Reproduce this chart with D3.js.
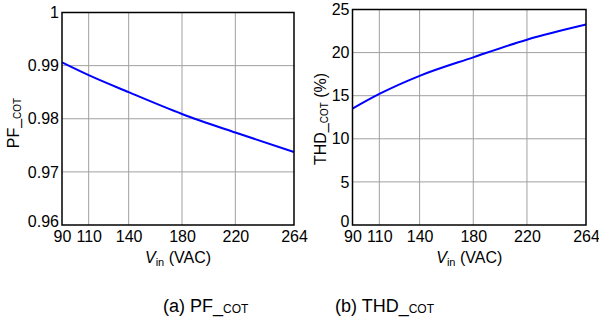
<!DOCTYPE html>
<html>
<head>
<meta charset="utf-8">
<script src="https://cdn.jsdelivr.net/npm/d3@7"></script>
<style>
  body { margin: 0; background: #fff; }
  svg { display: block; font-family: "Liberation Sans", Arial, sans-serif; }
  .grid line { stroke: #a0a0a0; stroke-width: 1; }
  .tick text { fill: #000; font-size: 16px; }
</style>
</head>
<body>
<svg id="chart" width="599" height="322"></svg>
<script>
// input voltage samples (VAC)
const vin = [90, 110, 140, 180, 220, 264];
const xTicks = [90, 110, 140, 180, 220, 264];

// power factor, COT control
const pfCot = [0.9906, 0.9882, 0.9850, 0.9809, 0.9774, 0.97375];
const pfTicks = [0.96, 0.97, 0.98, 0.99, 1];

// THD (%), COT control
const thdCot = [13.5, 15.2, 17.3, 19.45, 21.5, 23.25];
const thdTicks = [0, 5, 10, 15, 20, 25];

const svg = d3.select('#chart');

/**
 * Draw one panel.
 */
function drawPanel(opts) {

  const x = d3.scaleLinear().domain([90, 264]).range([opts.left, opts.right]);
  const y = d3.scaleLinear().domain(opts.yDomain).range([opts.bottom, opts.top]);
  const g = svg.append('g');

  // grid
  const grid = g.append('g').attr('class', 'grid');
  grid.selectAll('.vx')
    .data(xTicks.slice(1, -1))
    .enter()
    .append('line')
    .attr('x1', d => x(d)).attr('x2', d => x(d))
    .attr('y1', opts.top).attr('y2', opts.bottom);
  grid.selectAll('.hy')
    .data(opts.yTicks.slice(1, -1))
    .enter()
    .append('line')
    .attr('x1', opts.left).attr('x2', opts.right)
    .attr('y1', d => y(d)).attr('y2', d => y(d));

  // axes
  g.append('g')
    .attr('transform', `translate(0,${opts.bottom})`)
    .call(d3.axisBottom(x).tickValues(xTicks).tickSize(0).tickPadding(6))
    .call(a => a.select('.domain').remove());
  g.append('g')
    .attr('transform', `translate(${opts.left},0)`)
    .call(d3.axisLeft(y).tickValues(opts.yTicks).tickSize(0).tickPadding(3)
      .tickFormat(opts.fmt))
    .call(a => a.select('.domain').remove())
    // lowest label sits just above the x axis
    .call(a => a.selectAll('.tick text').filter(d => d === opts.yDomain[0]).attr('dy', '0.1em'));

  // curve
  g.append('path')
    .datum(opts.values)
    .attr('fill', 'none')
    .attr('stroke', '#0000ff')
    .attr('stroke-width', 2)
    .attr('d', d3.line().x((d, i) => x(vin[i])).y(d => y(d)).curve(d3.curveMonotoneX));

  // frame
  g.append('rect')
    .attr('x', opts.left).attr('y', opts.top)
    .attr('width', opts.right - opts.left).attr('height', opts.bottom - opts.top)
    .attr('fill', 'none').attr('stroke', '#000').attr('stroke-width', 1.5);

  // x label
  const xl = g.append('text')
    .attr('x', (opts.left + opts.right) / 2)
    .attr('y', 263)
    .attr('text-anchor', 'middle')
    .style('font-size', '16px');
  xl.append('tspan').style('font-style', 'italic').text('V');
  xl.append('tspan').attr('dy', 3).style('font-size', '11px').text('in');
  xl.append('tspan').attr('dy', -3).text(' (VAC)');

  // y label
  const yl = g.append('text')
    .attr('transform', `translate(${opts.yLabelX},${opts.yLabelY}) rotate(-90)`)
    .attr('text-anchor', 'middle')
    .style('font-size', '16px');
  yl.append('tspan').text(opts.yName + '_');
  yl.append('tspan').attr('dy', 2).style('font-size', '10px').text('COT');
  yl.append('tspan').attr('dy', -2).text(opts.ySuffix);
}

drawPanel({
  left: 62, right: 294, top: 12.5, bottom: 225,
  yDomain: [0.96, 1], yTicks: pfTicks, values: pfCot,
  fmt: d => d === 1 ? '1' : d3.format('.2f')(d),
  yName: 'PF', ySuffix: '', yLabelX: 19, yLabelY: 123
});

drawPanel({
  left: 352.5, right: 586, top: 9.5, bottom: 225,
  yDomain: [0, 25], yTicks: thdTicks, values: thdCot,
  fmt: d3.format('d'),
  yName: 'THD', ySuffix: ' (%)', yLabelX: 326, yLabelY: 119
});

// captions
function caption(xPos, label, name) {
  const t = svg.append('text')
    .attr('x', xPos).attr('y', 312)
    .style('font-size', '18px');
  t.append('tspan').text(label + ' ' + name + '_');
  t.append('tspan').attr('dy', 1).style('font-size', '12px').text('COT');
}
caption(163, '(a)', 'PF');
caption(335, '(b)', 'THD');
</script>
</body>
</html>
